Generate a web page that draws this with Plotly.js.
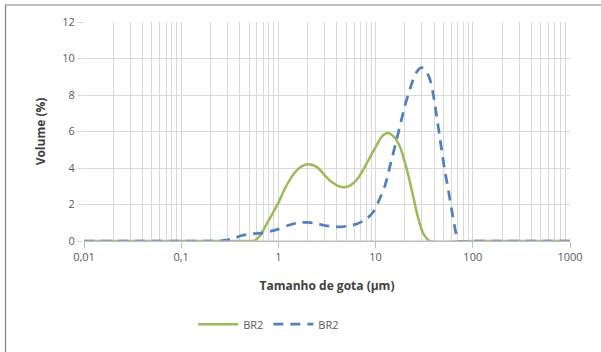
<!DOCTYPE html>
<html><head><meta charset="utf-8">
<script src="https://cdn.plot.ly/plotly-3.0.1.min.js"></script>
<style>html,body{margin:0;padding:0;background:#fff;}#chart{width:601px;height:352px;}</style>
</head><body><div id="chart"></div>
<script>
// Green solid series (BR2)
const greenX = [0.01, 0.1, 0.3, 0.5, 0.57, 0.65, 0.75, 0.87, 1.0, 1.2, 1.45, 1.75, 2.05, 2.5, 3.0, 3.6, 4.2, 4.7, 5.5, 6.5, 8.0, 10.0, 11.7, 13.2, 15.5, 18.0, 21.0, 24.0, 27.0, 31.0, 36.0, 100, 1000];
const greenY = [0, 0, 0, 0, 0.02, 0.3, 0.9, 1.5, 2.1, 3.0, 3.7, 4.1, 4.2, 4.05, 3.6, 3.2, 3.0, 2.95, 3.05, 3.4, 4.2, 5.15, 5.75, 5.92, 5.7, 5.1, 3.9, 2.6, 1.4, 0.4, 0, 0, 0];
// Blue dashed series (BR2)
const blueX = [0.01, 0.1, 0.2, 0.28, 0.35, 0.42, 0.55, 0.7, 0.85, 1.0, 1.25, 1.6, 2.0, 2.5, 3.0, 3.7, 4.5, 5.5, 6.5, 8.0, 9.5, 11.0, 12.6, 14.2, 16.0, 18.0, 20.0, 22.8, 26.0, 29.6, 33.0, 36.0, 39.0, 42.0, 46.0, 51.0, 56.0, 62.0, 67.0, 71.0, 100, 1000];
const blueY = [0, 0, 0, 0.03, 0.15, 0.3, 0.4, 0.45, 0.55, 0.65, 0.85, 1.0, 1.02, 0.95, 0.85, 0.78, 0.78, 0.85, 0.95, 1.2, 1.6, 2.3, 3.1, 4.2, 5.3, 6.4, 7.4, 8.4, 9.2, 9.5, 9.3, 8.9, 8.1, 7.0, 5.6, 4.0, 2.8, 1.4, 0.45, 0, 0, 0];
const xMajorVals = [0.01, 0.1, 1, 10, 100, 1000];
const xMajorText = ['0,01', '0,1', '1', '10', '100', '1000'];
const yTickVals = [0, 2, 4, 6, 8, 10, 12];
const seriesNames = ['BR2', 'BR2'];

const minorVals = [];
for (let e = -2; e < 3; e++) for (let d = 2; d <= 9; d++) minorVals.push(d * Math.pow(10, e));

const font = {family: 'Open Sans, Liberation Sans, sans-serif', size: 11, color: '#595959'};

const traces = [
  {x: greenX, y: greenY, mode: 'lines', name: seriesNames[0], line: {color: '#9BBB59', width: 2.5, shape: 'spline', smoothing: 0.8}},
  {x: blueX, y: blueY, mode: 'lines', name: seriesNames[1], line: {color: '#4F81BD', width: 2.75, dash: '10px,7px', shape: 'spline', smoothing: 0.8}}
];

const layout = {
  width: 601, height: 352,
  margin: {l: 84, r: 31, t: 22, b: 111},
  paper_bgcolor: 'rgba(0,0,0,0)', plot_bgcolor: 'rgba(0,0,0,0)',
  font: font,
  showlegend: true,
  legend: {orientation: 'h', x: 0.38, xanchor: 'center', y: -0.38, yanchor: 'middle', font: font, traceorder: 'normal', itemwidth: 40},
  xaxis: {
    type: 'log', range: [-2, 3], tickmode: 'array', tickvals: xMajorVals, ticktext: xMajorText,
    showgrid: true, gridcolor: '#d9d9d9', gridwidth: 1,
    minor: {tickmode: 'array', tickvals: minorVals, showgrid: true, gridcolor: '#d9d9d9', gridwidth: 1, ticks: ''},
    ticks: 'outside', ticklen: 6, tickcolor: '#bfbfbf',
    showline: true, linecolor: '#bfbfbf', linewidth: 1, zeroline: false,
    tickfont: font,
    title: {text: '<b>Tamanho de gota (µm)</b>', font: {family: 'Open Sans, Liberation Sans, sans-serif', size: 12, color: '#404040'}, standoff: 18}
  },
  yaxis: {
    range: [0, 12], tickmode: 'array', tickvals: yTickVals,
    showgrid: true, gridcolor: '#d9d9d9', gridwidth: 1,
    ticks: 'outside', ticklen: 6, tickcolor: '#d9d9d9',
    showline: false, zeroline: false,
    tickfont: font,
    title: {text: '<b>Volume (%)</b>', font: {family: 'Open Sans, Liberation Sans, sans-serif', size: 12, color: '#404040'}, standoff: 14}
  },
  shapes: [
    {type: 'rect', xref: 'paper', yref: 'paper', x0: (5.5 - 84) / 486, x1: (605 - 84) / 486, y0: -0.6, y1: 1 + 17 / 219, line: {color: '#7f7f7f', width: 1.2}, fillcolor: 'rgba(0,0,0,0)', layer: 'below'},
    {type: 'line', xref: 'paper', yref: 'y', x0: 0, x1: 1, y0: 0, y1: 0, line: {color: '#bfbfbf', width: 1.2}}
  ]
};

Plotly.newPlot('chart', traces, layout, {staticPlot: true, displayModeBar: false});
</script>
</body></html>
